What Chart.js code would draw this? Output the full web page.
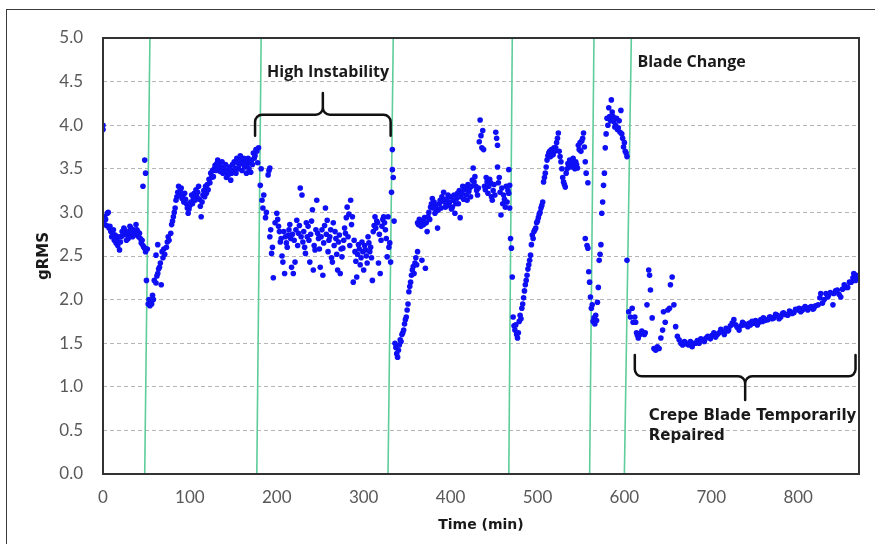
<!DOCTYPE html>
<html lang="en">
<head>
  <meta charset="UTF-8">
  <title>gRMS vs Time</title>
  <script src="https://cdn.jsdelivr.net/npm/chart.js"></script>
  <style>
    html, body { margin: 0; padding: 0; background: #fff; overflow: hidden; }
    .frame { position: absolute; left: 6px; top: 9px; width: 900px; height: 600px; border: 1.5px solid #3a3a3a; }
    #chart { position: absolute; left: 0; top: 0; }
  </style>
</head>
<body>
  <div class="frame"></div>
  <canvas id="chart" width="875" height="544"></canvas>

  <script>
    // [time (min), gRMS] readings, one array per run between blade events
    const run1 = [[0,4.00],[0,3.95],[1,2.88],[2,2.95],[3,2.92],[4,2.85],[5,2.99],[6,3.00],[7,2.82],[8,2.84],[9,2.78],[10,2.72],[11,2.76],[12,2.80],[13,2.68],[14,2.74],[15,2.65],[16,2.70],[17,2.62],[18,2.72],[19,2.57],[20,2.66],[21,2.72],[22,2.78],[23,2.74],[24,2.82],[25,2.80],[26,2.76],[27,2.68],[28,2.74],[29,2.70],[30,2.78],[31,2.84],[32,2.82],[33,2.76],[34,2.72],[35,2.80],[36,2.74],[37,2.76],[38,2.86],[39,2.80],[40,2.78],[41,2.72],[42,2.76],[43,2.70],[44,2.65],[45,2.68],[46,3.30],[46,2.62],[47,2.60],[48,3.60],[48,2.59],[49,3.45],[49,2.55],[50,2.22],[51,2.58]];
    const run2 = [[52,1.95],[53,2.00],[54,1.93],[55,1.97],[56,1.95],[57,2.05],[58,2.00],[59,2.22],[61,2.19],[61,2.51],[62,2.27],[63,2.30],[63,2.63],[64,2.35],[65,2.37],[66,2.42],[67,2.17],[68,2.55],[69,2.48],[70,2.58],[71,2.52],[73,2.60],[74,2.66],[75,2.72],[76,2.68],[78,2.76],[79,2.86],[80,2.90],[81,2.95],[82,3.00],[83,3.05],[84,3.14],[85,3.18],[86,3.23],[87,3.30],[88,3.20],[89,3.25],[90,3.28],[91,3.16],[92,3.20],[93,3.12],[94,3.22],[95,3.15],[96,3.10],[97,3.05],[98,2.99],[99,3.04],[100,3.08],[101,3.12],[102,3.20],[103,3.10],[104,3.16],[105,3.22],[106,3.14],[107,3.26],[108,3.18],[109,3.23],[110,3.30],[111,3.15],[112,3.07],[113,2.95],[114,3.12],[115,3.20],[116,3.25],[117,3.18],[118,3.30],[119,3.22],[120,3.32],[121,3.26],[122,3.38],[123,3.34],[124,3.45],[125,3.40],[126,3.48],[127,3.41],[128,3.50],[129,3.54],[130,3.48],[131,3.56],[132,3.60],[133,3.50],[134,3.55],[135,3.47],[136,3.52],[137,3.58],[138,3.45],[139,3.50],[140,3.46],[141,3.55],[142,3.40],[143,3.48],[144,3.43],[145,3.52],[146,3.50],[147,3.37],[148,3.45],[149,3.55],[150,3.48],[151,3.58],[152,3.51],[153,3.45],[154,3.62],[155,3.57],[156,3.50],[157,3.55],[158,3.65],[159,3.60],[160,3.48],[161,3.56],[162,3.62],[163,3.52],[164,3.58],[165,3.45],[166,3.55],[167,3.62],[168,3.50],[169,3.58],[170,3.46],[171,3.60],[172,3.55],[173,3.68],[174,3.62],[175,3.65],[176,3.72],[177,3.70],[178,3.57],[179,3.74]];
    const run3 = [[181,3.31],[182,3.50],[183,3.14],[184,3.05],[185,3.20],[187,2.94],[188,3.00],[190,3.43],[191,3.48],[192,3.51],[192,2.72],[193,2.80],[194,2.53],[195,2.60],[196,2.25],[198,2.88],[200,2.99],[201,2.92],[202,2.84],[203,2.78],[204,2.66],[205,2.70],[206,2.50],[207,2.43],[208,2.78],[209,2.30],[210,2.72],[211,2.65],[212,2.60],[213,2.74],[214,2.80],[215,2.86],[216,2.70],[217,2.37],[218,2.75],[219,2.30],[220,2.68],[221,2.43],[222,2.80],[223,2.91],[224,2.62],[225,2.76],[226,2.85],[227,3.28],[228,2.72],[229,3.20],[230,2.66],[231,2.78],[232,2.60],[233,2.53],[234,2.88],[235,2.72],[236,2.84],[237,2.68],[238,2.43],[239,2.75],[240,2.90],[241,3.03],[242,2.34],[243,2.62],[244,2.57],[245,2.80],[246,3.14],[247,2.76],[248,2.70],[249,2.58],[250,2.37],[251,2.72],[252,2.80],[253,2.28],[254,2.65],[255,2.85],[256,3.05],[257,2.75],[258,2.91],[259,2.55],[260,2.68],[261,2.72],[262,2.80],[263,2.48],[264,2.43],[265,2.88],[266,2.62],[267,2.78],[268,2.70],[269,2.52],[270,2.34],[271,2.66],[272,2.74],[273,2.30],[274,2.58],[275,2.49],[276,2.59],[277,2.68],[278,2.82],[279,2.76],[280,2.94],[281,3.06],[282,2.72],[283,2.98],[284,2.62],[285,3.14],[286,2.86],[287,2.95],[288,2.20],[289,2.68],[290,2.55],[291,2.44],[292,2.26],[293,2.52],[294,2.63],[295,2.58],[296,2.40],[297,2.48],[298,2.66],[299,2.55],[300,2.34],[301,2.62],[302,2.57],[303,2.50],[304,2.42],[305,2.72],[306,2.65],[307,2.55],[308,2.60],[309,2.48],[310,2.22],[311,2.78],[312,2.85],[313,2.95],[314,2.82],[315,2.90],[316,2.88],[317,2.42],[318,2.75],[319,2.30],[320,2.68],[321,2.84],[322,2.92],[323,2.95],[324,2.88],[325,2.80],[326,2.70],[327,2.49],[328,2.95],[329,2.60],[330,2.65],[331,2.43]];
    const run4 = [[332,3.23],[333,3.72],[333,3.49],[334,3.40],[335,2.90],[336,1.50],[337,1.45],[338,1.38],[339,1.34],[340,1.42],[341,1.48],[342,1.54],[343,1.52],[344,1.60],[345,1.62],[346,1.65],[347,1.72],[348,1.77],[349,1.80],[350,1.88],[351,1.95],[352,2.09],[353,2.15],[354,2.20],[355,2.28],[356,2.34],[357,2.38],[358,2.30],[359,2.42],[360,2.48],[361,2.40],[362,2.55],[362,2.88],[363,2.86],[364,2.92],[365,2.89],[366,2.84],[367,2.45],[368,2.90],[369,2.86],[370,2.94],[371,2.36],[372,2.88],[373,2.78],[374,2.95],[375,3.00],[376,2.92],[377,3.06],[378,3.10],[379,3.16],[380,3.05],[381,3.12],[382,2.99],[383,3.08],[384,3.02],[385,2.82],[386,3.03],[387,3.10],[388,3.14],[389,3.05],[390,3.18],[391,3.14],[392,3.23],[393,3.12],[394,3.06],[395,3.15],[396,3.10],[397,3.20],[398,3.08],[399,3.12],[400,3.18],[401,3.04],[402,3.06],[403,3.14],[404,3.20],[405,2.99],[406,3.10],[407,3.16],[408,3.22],[409,3.10],[410,3.25],[411,2.94],[412,3.18],[413,3.22],[414,3.30],[415,3.15],[416,3.26],[417,3.29],[418,3.20],[419,3.14],[420,3.32],[421,3.24],[422,3.28],[423,3.18],[424,3.30],[425,3.37],[426,3.51],[427,3.35],[428,3.41],[429,3.30],[430,3.25],[431,3.20],[432,3.28],[433,3.81],[434,4.06],[435,3.88],[436,3.74],[437,3.94],[438,3.72],[439,3.30],[440,3.26],[441,3.40],[442,3.35],[443,3.22],[444,3.30],[445,3.38],[446,3.34],[447,3.18],[448,3.14],[449,3.25],[450,3.32],[451,3.20],[452,3.92],[453,3.85],[454,3.77],[454,3.52],[455,3.34],[456,3.40],[457,3.23],[458,2.97],[459,3.28],[460,3.10],[461,3.20],[462,3.15],[463,3.06],[464,3.30],[465,3.12],[466,3.25],[467,3.22],[467,3.49],[468,3.05],[468,3.31]];
    const run5 = [[469,2.70],[470,2.59],[471,2.26],[472,1.80],[473,1.70],[474,1.65],[475,1.71],[476,1.60],[477,1.56],[478,1.62],[479,1.75],[480,1.82],[481,1.78],[482,1.90],[483,1.95],[484,2.02],[485,2.10],[486,2.17],[487,2.22],[488,2.28],[489,2.35],[490,2.40],[491,2.45],[492,2.51],[493,2.63],[494,2.74],[495,2.70],[496,2.78],[497,2.80],[498,2.82],[499,2.88],[500,2.90],[501,2.94],[502,2.98],[503,3.00],[504,3.05],[505,3.08],[506,3.12],[507,3.35],[508,3.40],[509,3.45],[510,3.52],[511,3.60],[512,3.65],[513,3.68],[514,3.70],[515,3.64],[516,3.72],[517,3.69],[518,3.66],[519,3.74],[520,3.70],[521,3.74],[522,3.80],[523,3.85],[524,3.91],[525,3.70],[526,3.64],[527,3.58],[528,3.50],[529,3.40],[530,3.35],[531,3.32],[532,3.29],[533,3.45],[534,3.50],[535,3.56],[536,3.54],[537,3.60],[538,3.52],[539,3.58],[540,3.54],[541,3.62],[542,3.55],[543,3.50],[544,3.58],[545,3.55],[546,3.51],[547,3.77],[548,3.72],[549,3.80],[550,3.70],[551,3.82],[552,3.85],[553,3.91],[554,3.75],[555,3.58],[555,2.70],[556,3.45],[557,2.62],[558,3.34],[558,2.59],[559,2.32],[560,2.20],[561,2.03]];
    const run6 = [[562,1.90],[563,1.94],[564,1.75],[565,1.79],[566,1.72],[567,1.82],[568,1.76],[569,1.97],[570,2.14],[571,2.45],[572,2.52],[573,2.63],[574,2.99],[575,3.12],[576,3.31],[577,3.45],[578,3.74],[579,3.90],[580,4.08],[581,4.00],[582,4.20],[583,4.10],[584,4.05],[585,4.29],[586,4.15],[587,4.10],[588,4.04],[589,3.98],[590,4.00],[591,4.08],[592,3.95],[593,3.97],[594,4.05],[595,3.92],[596,4.17],[597,3.90],[598,3.85],[599,3.75],[600,3.80],[601,3.70],[602,3.68],[603,3.64],[603,2.45]];
    const run7 = [[605,1.86],[607,1.80],[609,1.90],[610,1.74],[612,1.80],[613,1.74],[614,1.62],[615,1.59],[616,1.56],[618,1.60],[620,1.64],[621,1.62],[623,1.60],[624,1.62],[626,1.94],[628,2.34],[629,2.28],[630,2.11],[632,1.79],[634,1.44],[636,1.42],[638,1.46],[640,1.44],[642,1.56],[644,1.65],[645,1.86],[647,1.74],[650,1.88],[652,1.90],[653,2.17],[655,2.26],[657,1.94],[659,1.69],[661,1.58],[663,1.54],[665,1.50],[667,1.48],[669,1.52],[670,1.51],[672,1.49],[674,1.48],[676,1.52],[678,1.46],[680,1.50],[682,1.50],[684,1.53],[686,1.50],[688,1.55],[690,1.54],[692,1.52],[694,1.56],[696,1.58],[697,1.57],[699,1.55],[701,1.59],[703,1.62],[705,1.57],[707,1.60],[709,1.62],[711,1.66],[713,1.63],[715,1.60],[717,1.67],[719,1.64],[720,1.65],[722,1.70],[724,1.73],[726,1.77],[728,1.71],[730,1.68],[732,1.65],[734,1.70],[736,1.74],[737,1.71],[739,1.72],[742,1.69],[744,1.73],[745,1.71],[747,1.75],[749,1.73],[751,1.76],[753,1.71],[755,1.74],[757,1.77],[759,1.75],[760,1.79],[762,1.76],[765,1.77],[767,1.80],[768,1.80],[770,1.78],[772,1.79],[774,1.83],[776,1.82],[778,1.78],[780,1.80],[782,1.84],[783,1.85],[785,1.83],[788,1.82],[790,1.87],[791,1.86],[793,1.84],[795,1.85],[797,1.89],[799,1.88],[801,1.90],[803,1.86],[805,1.88],[806,1.90],[808,1.92],[811,1.88],[813,1.91],[815,1.92],[817,1.89],[818,1.90],[820,1.93],[823,1.94],[825,2.02],[826,2.07],[828,1.96],[830,2.00],[832,2.07],[834,2.03],[835,2.05],[837,2.08],[840,1.94],[841,2.07],[843,2.10],[845,2.11],[847,2.06],[849,2.03],[851,2.12],[853,2.17],[855,2.14],[857,2.14],[859,2.20],[861,2.20],[863,2.25],[864,2.30],[866,2.22],[867,2.28],[869,2.26]];

    // event markers: time where the line meets the top (5.0) and the bottom (0.0)
    const eventTop    = [54, 182, 334, 471, 565, 608];
    const eventBottom = [48, 177, 328, 467, 560, 600];

    const xTicks = [0, 100, 200, 300, 400, 500, 600, 700, 800];
    const xMax = 870;

    // bracket annotations (data units)
    const brackets = [
      { from: 175, to: 331, level: 4.12, tip: 3.88, peak: 4.37 },
      { from: 612, to: 866, level: 1.12, tip: 1.365, peak: 0.85 }
    ];
    const notes = [
      { text: 'High Instability', x: 259, y: 4.61, align: 'center', font: 'bold 16px "Open Sans"' },
      { text: 'Blade Change', x: 615, y: 4.72, align: 'left', font: 'bold 16px "Open Sans"' },
      { text: 'Crepe Blade Temporarily', x: 628, y: 0.665, align: 'left', font: 'bold 15px "DejaVu Sans"' },
      { text: 'Repaired', x: 628, y: 0.436, align: 'left', font: 'bold 15px "DejaVu Sans"' }
    ];

    const toPoints = arr => arr.map(p => ({ x: p[0], y: p[1] }));
    const readings = [run1, run2, run3, run4, run5, run6, run7].flatMap(toPoints);

    const eventSets = eventTop.map((t, i) => ({
      type: 'scatter',
      data: [{ x: t, y: 5 }, { x: eventBottom[i], y: 0 }],
      showLine: true,
      borderColor: 'rgb(95,205,155)',
      borderWidth: 1.6,
      pointRadius: 0,
      order: 2
    }));

    const annotate = {
      id: 'annotate',
      afterDatasetsDraw(chart) {
        const { ctx, chartArea: a, scales: { x, y } } = chart;
        ctx.save();
        // plot frame
        ctx.strokeStyle = '#333';
        ctx.lineWidth = 2;
        ctx.strokeRect(a.left, a.top, a.right - a.left, a.bottom - a.top);

        ctx.strokeStyle = '#111';
        ctx.lineWidth = 2.5;
        ctx.lineCap = 'round';
        const r = 7;
        brackets.forEach(b => {
          const xl = x.getPixelForValue(b.from), xr = x.getPixelForValue(b.to);
          const xm = x.getPixelForValue((b.from + b.to) / 2);
          const yl = y.getPixelForValue(b.level), yt = y.getPixelForValue(b.tip), yp = y.getPixelForValue(b.peak);
          ctx.beginPath();
          ctx.moveTo(xl, yt);
          ctx.arcTo(xl, yl, xm, yl, r);
          ctx.arcTo(xm, yl, xm, yp, r);
          ctx.lineTo(xm, yp);
          ctx.moveTo(xr, yt);
          ctx.arcTo(xr, yl, xm, yl, r);
          ctx.arcTo(xm, yl, xm, yp, r);
          ctx.lineTo(xm, yp);
          ctx.stroke();
        });

        ctx.fillStyle = '#1a1a1a';
        ctx.textBaseline = 'middle';
        notes.forEach(n => {
          ctx.font = n.font;
          ctx.textAlign = n.align;
          ctx.fillText(n.text, x.getPixelForValue(n.x), y.getPixelForValue(n.y));
        });
        ctx.restore();
      }
    };

    new Chart(document.getElementById('chart'), {
      type: 'scatter',
      data: {
        datasets: [
          {
            label: 'gRMS',
            data: readings,
            backgroundColor: 'rgb(15,15,245)',
            borderWidth: 0,
            pointRadius: 2.8,
            order: 1
          },
          ...eventSets
        ]
      },
      options: {
        responsive: false,
        animation: false,
        layout: { padding: { left: 0, top: 38, right: 16, bottom: 0 } },
        plugins: { legend: { display: false }, tooltip: { enabled: false } },
        scales: {
          x: {
            type: 'linear',
            min: 0,
            max: xMax,
            afterFit: s => { s.height = 70; },
            afterBuildTicks: s => { s.ticks = xTicks.map(v => ({ value: v })); },
            grid: { display: false, drawTicks: false },
            border: { display: false },
            ticks: { padding: 13, color: '#595959', font: { family: 'Lato', size: 17 } },
            title: {
              display: true,
              text: 'Time (min)',
              color: '#1a1a1a',
              font: { family: 'DejaVu Sans', size: 14, weight: 'bold' },
              padding: { top: 0, bottom: 10 }
            }
          },
          y: {
            min: 0,
            max: 5,
            afterFit: s => { s.width = 103; },
            grid: { color: '#b5b5b5', drawTicks: false },
            border: { display: false, dash: [4, 3] },
            ticks: {
              stepSize: 0.5,
              padding: 20,
              color: '#595959',
              font: { family: 'Lato', size: 17 },
              callback: v => v.toFixed(1)
            },
            title: {
              display: true,
              text: 'gRMS',
              color: '#1a1a1a',
              font: { family: 'DejaVu Sans', size: 15, weight: 'bold' },
              padding: { top: 35, bottom: 0 }
            }
          }
        }
      },
      plugins: [annotate]
    });
  </script>
</body>
</html>
